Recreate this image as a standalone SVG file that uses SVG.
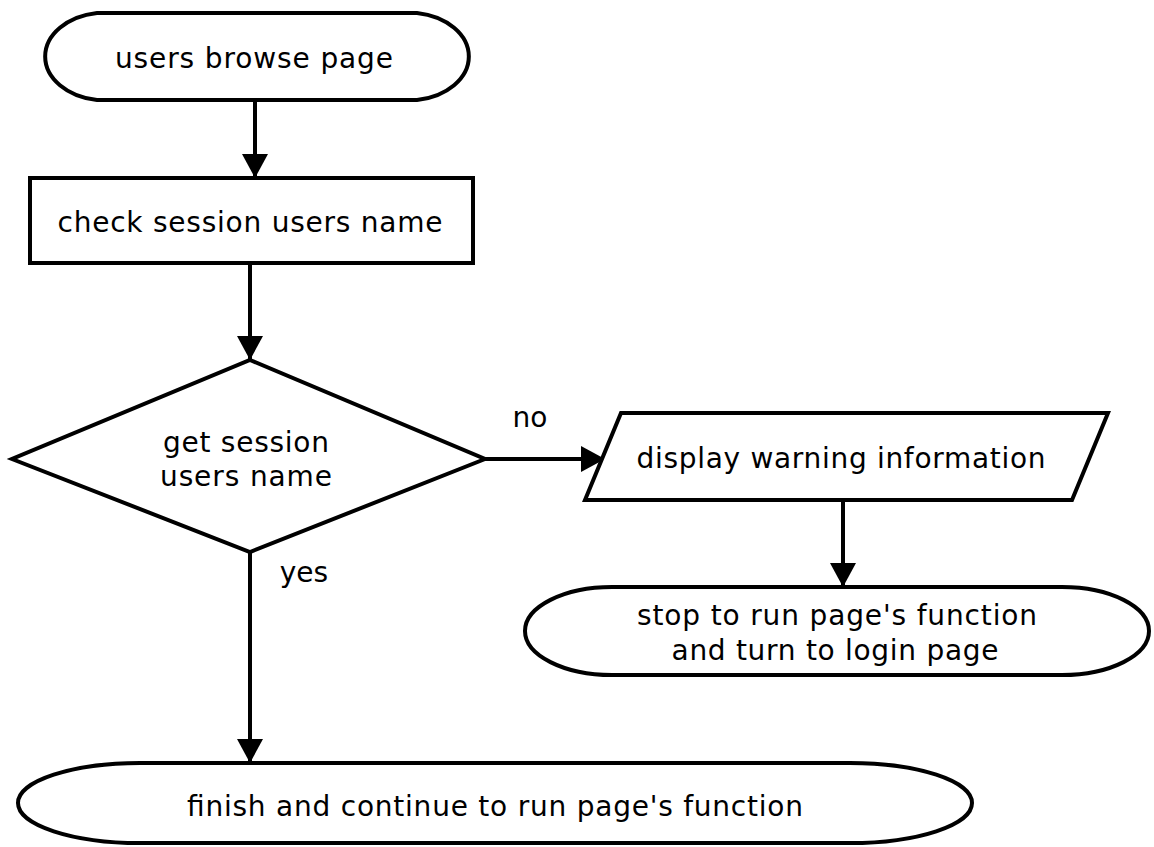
<svg xmlns="http://www.w3.org/2000/svg" width="1154" height="847" viewBox="0 0 1154 847">
<style>
.s{fill:#fff;stroke:#000;stroke-width:4}
.t{font-family:"DejaVu Sans",sans-serif;font-size:28px;fill:#000;text-anchor:middle}
.c{fill:none;stroke:#000;stroke-width:4}
</style>
<defs>
<marker id="a" markerUnits="userSpaceOnUse" markerWidth="32" markerHeight="28" refX="24" refY="13" orient="auto">
<path d="M0,0 L24,13 L0,26 Z" fill="#000"/>
</marker>
</defs>
<rect width="1154" height="847" fill="#fff"/>
<g id="connectors">
<line class="c" x1="255" y1="100" x2="255" y2="178" marker-end="url(#a)"/>
<line class="c" x1="250" y1="263" x2="250" y2="360" marker-end="url(#a)"/>
<line class="c" x1="485" y1="459" x2="605" y2="459" marker-end="url(#a)"/>
<line class="c" x1="843" y1="500" x2="843" y2="587" marker-end="url(#a)"/>
<line class="c" x1="250" y1="552" x2="250" y2="763" marker-end="url(#a)"/>
<text class="t" x="530" y="427">no</text>
<text class="t" x="304" y="582">yes</text>
</g>
<g id="start">
<path class="s" d="M97,13 L417,13 A61,44 0 0 1 417,100 L97,100 A61,44 0 0 1 97,13 Z"/>
<text class="t" x="254" y="68" textLength="278">users browse page</text>
</g>
<g id="check">
<rect class="s" x="30" y="178" width="443" height="85"/>
<text class="t" x="250" y="232" textLength="385">check session users name</text>
</g>
<g id="decision">
<polygon class="s" points="250,360 485,459 250,552 12,459"/>
<text class="t" x="246" y="452" textLength="166">get session</text>
<text class="t" x="246" y="486" textLength="172">users name</text>
</g>
<g id="warning">
<polygon class="s" points="621,413 1108,413 1072,500 585,500"/>
<text class="t" x="841" y="468" textLength="409">display warning information</text>
</g>
<g id="stop">
<path class="s" d="M612,587 L1062,587 A87,44 0 0 1 1062,675 L612,675 A87,44 0 0 1 612,587 Z"/>
<text class="t" x="837" y="625" textLength="400">stop to run page's function</text>
<text class="t" x="835" y="660" textLength="327">and turn to login page</text>
</g>
<g id="finish">
<path class="s" d="M140,763 L850,763 A122,40 0 0 1 850,843 L140,843 A122,40 0 0 1 140,763 Z"/>
<text class="t" x="495" y="816" textLength="616">finish and continue to run page's function</text>
</g>
</svg>
